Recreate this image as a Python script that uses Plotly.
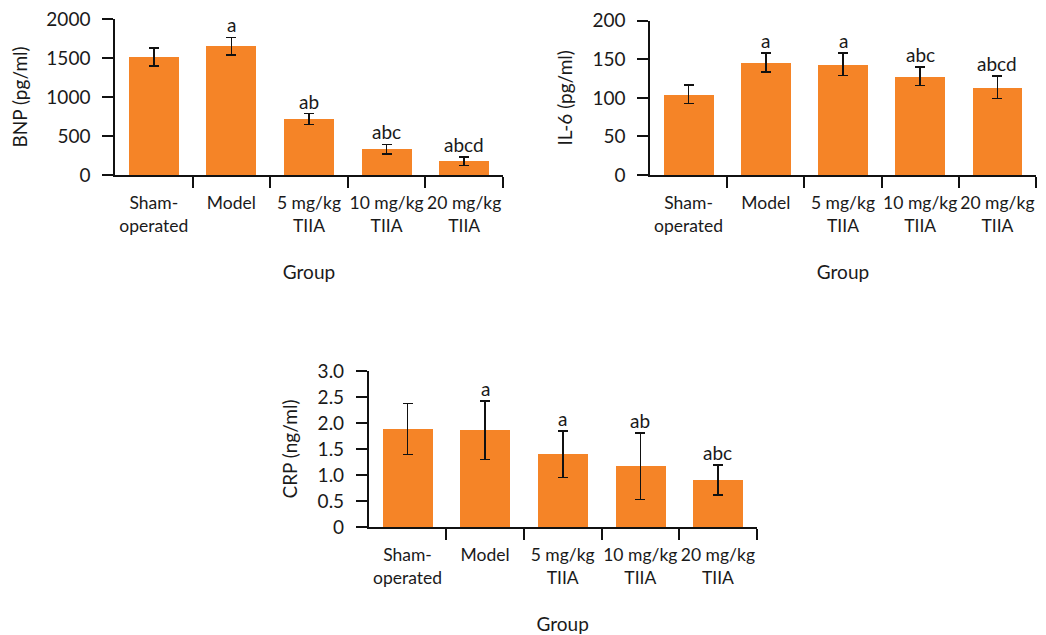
import plotly.graph_objects as go

groups = ["Sham-<br>operated", "Model", "5 mg/kg<br>TIIA", "10 mg/kg<br>TIIA", "20 mg/kg<br>TIIA"]

bnp_mean = [1510, 1650, 718, 330, 175]
bnp_err = [115, 115, 70, 62, 55]
bnp_sig = ["", "a", "ab", "abc", "abcd"]

il6_mean = [104.5, 146, 143.5, 128, 113.5]
il6_err = [12, 12.5, 14.5, 12, 14.5]
il6_sig = ["", "a", "a", "abc", "abcd"]

crp_mean = [1.885, 1.86, 1.40, 1.17, 0.90]
crp_err = [0.49, 0.56, 0.45, 0.64, 0.29]
crp_sig = ["", "a", "a", "ab", "abc"]

bnp_ticks = [0, 500, 1000, 1500, 2000]
il6_ticks = [0, 50, 100, 150, 200]
crp_ticks = [0, 0.5, 1.0, 1.5, 2.0, 2.5, 3.0]
crp_ticktext = ["0", "0.5", "1.0", "1.5", "2.0", "2.5", "3.0"]

panels = [
    dict(mean=bnp_mean, err=bnp_err, sig=bnp_sig, title="BNP (pg/ml)", yrange=[0, 2000],
         tv=bnp_ticks, tt=[str(v) for v in bnp_ticks], xdom=[115, 503], ydom=[19, 175]),
    dict(mean=il6_mean, err=il6_err, sig=il6_sig, title="IL-6 (pg/ml)", yrange=[0, 200],
         tv=il6_ticks, tt=[str(v) for v in il6_ticks], xdom=[650, 1036], ydom=[20.7, 175]),
    dict(mean=crp_mean, err=crp_err, sig=crp_sig, title="CRP (ng/ml)", yrange=[0, 3],
         tv=crp_ticks, tt=crp_ticktext, xdom=[368.7, 756.7], ydom=[371, 527]),
]

W, H = 1046, 635
OFF = 8  # default page body margin
FONT = "Lato"
TXT = "#1a1a1a"
ORANGE = "#F58427"

fig = go.Figure()
xs = list(range(len(groups)))
boundaries = [i + 0.5 for i in xs]

for k, p in enumerate(panels, start=1):
    xa = "x" if k == 1 else f"x{k}"
    ya = "y" if k == 1 else f"y{k}"
    fig.add_trace(go.Bar(
        x=xs, y=p["mean"], width=0.645, marker=dict(color=ORANGE, line=dict(width=0)),
        error_y=dict(type="data", array=p["err"], visible=True, color="#111111", thickness=1.6, width=5),
        xaxis=xa, yaxis=ya, showlegend=False,
    ))
    for xi, m, e, s in zip(xs, p["mean"], p["err"], p["sig"]):
        if s:
            fig.add_annotation(x=xi, y=m + e, xref=xa, yref=ya, text=s, showarrow=False,
                               yanchor="bottom", yshift=-1, font=dict(family=FONT, size=19, color=TXT))
    xkey = "xaxis" if k == 1 else f"xaxis{k}"
    ykey = "yaxis" if k == 1 else f"yaxis{k}"
    fig.update_layout(**{
        xkey: dict(
            domain=[(p["xdom"][0] - OFF) / W, (p["xdom"][1] - OFF) / W], anchor=ya,
            range=[-0.5, len(groups) - 0.5], tickmode="array", tickvals=xs, ticktext=groups,
            tickangle=0, ticklabeloverflow="allow",
            ticks="outside", ticklen=11, tickcolor="rgba(0,0,0,0)",
            minor=dict(tickmode="array", tickvals=boundaries, ticks="outside", ticklen=11,
                       tickcolor="#111111", tickwidth=1.5),
            showline=True, linecolor="#111111", linewidth=1.5, showgrid=False, zeroline=False,
            tickfont=dict(family=FONT, size=17.5, color=TXT),
            title=dict(text="Group", font=dict(family=FONT, size=19, color=TXT), standoff=31),
            automargin=False, fixedrange=True,
        ),
        ykey: dict(
            domain=[1 - (p["ydom"][1] - OFF) / H, 1 - (p["ydom"][0] - OFF) / H], anchor=xa,
            range=p["yrange"], tickmode="array", tickvals=p["tv"], ticktext=p["tt"],
            ticklabeloverflow="allow", ticklabelstandoff=8,
            ticks="outside", ticklen=11, tickcolor="#111111", tickwidth=1.5,
            showline=True, linecolor="#111111", linewidth=1.5, showgrid=False, zeroline=False,
            tickfont=dict(family=FONT, size=19, color=TXT),
            title=dict(text=p["title"], font=dict(family=FONT, size=19, color=TXT)),
            automargin=False, fixedrange=True,
        ),
    })

fig.update_layout(
    width=W, height=H, margin=dict(l=0, r=0, t=0, b=0),
    paper_bgcolor="white", plot_bgcolor="white", bargap=0,
)

fig.write_html("out.html")
